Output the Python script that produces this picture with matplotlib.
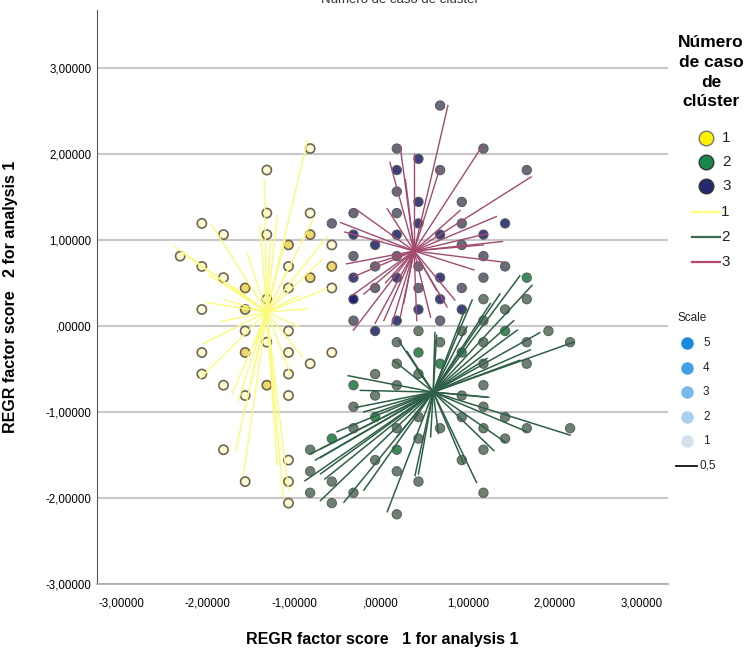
import matplotlib
matplotlib.use("Agg")
import matplotlib.pyplot as plt
from matplotlib.lines import Line2D

plt.rcParams['font.family'] = ['Liberation Sans', 'DejaVu Sans']

# ---------------- data ----------------
# cluster 1 (yellow) binned points; tone 0 = hollow, 1 = filled
c1_x = [-0.82, -0.82, -0.82, -0.82, -0.82,
        -1.32, -1.32, -1.32, -1.32, -1.32, -1.32,
        -2.07, -2.07, -2.07, -2.07, -2.07,
        -1.82, -1.82, -1.82, -1.82,
        -2.32,
        -1.07, -1.07, -1.07, -1.07, -1.07, -1.07, -1.07, -1.07, -1.07, -1.07,
        -1.57, -1.57, -1.57, -1.57, -1.57, -1.57,
        -0.57, -0.57, -0.57, -0.57]
c1_y = [2.06, 1.31, 1.06, 0.56, -0.44,
        1.81, 1.31, 1.06, 0.31, -0.19, -0.69,
        1.19, 0.69, 0.19, -0.31, -0.56,
        1.06, 0.56, -0.69, -1.44,
        0.81,
        0.94, 0.69, 0.44, -0.06, -0.31, -0.56, -0.81, -1.56, -1.81, -2.06,
        0.44, 0.19, -0.06, -0.31, -0.81, -1.81,
        0.94, 0.69, 0.44, -0.31]
c1_tone = [0, 0, 1, 1, 0,
           0, 0, 0, 0, 0, 1,
           0, 0, 0, 0, 0,
           0, 0, 0, 0,
           0,
           1, 0, 0, 0, 0, 0, 0, 0, 0, 0,
           1, 1, 0, 1, 0, 0,
           0, 1, 0, 0]

# cluster 3 (pink lines) binned points; tone 0 = grey, 1 = navy, 2 = bright navy
c3_x = [0.68, 0.68, 0.68, 0.68, 0.68, 0.68,
        0.18, 0.18, 0.18, 0.18, 0.18, 0.18, 0.18, 0.18,
        1.18, 1.18, 1.18, 1.18,
        0.43, 0.43, 0.43, 0.43, 0.43, 0.43,
        1.68,
        0.93, 0.93, 0.93, 0.93, 0.93,
        -0.32, -0.32, -0.32, -0.32, -0.32, -0.32,
        -0.57,
        1.43, 1.43,
        -0.07, -0.07, -0.07, -0.07]
c3_y = [2.56, 1.81, 1.06, 0.56, 0.31, 0.06,
        2.06, 1.81, 1.56, 1.31, 1.06, 0.81, 0.56, 0.06,
        2.06, 1.06, 0.81, 0.56,
        1.94, 1.44, 1.19, 0.69, 0.44, 0.19,
        1.81,
        1.44, 1.19, 0.94, 0.44, 0.19,
        1.31, 1.06, 0.81, 0.56, 0.31, 0.06,
        1.19,
        1.19, 0.69,
        0.94, 0.69, 0.44, -0.06]
c3_tone = [0, 0, 1, 1, 1, 0,
           0, 1, 0, 0, 1, 0, 1, 1,
           0, 1, 0, 0,
           1, 1, 1, 0, 0, 1,
           0,
           0, 0, 0, 0, 1,
           0, 1, 0, 1, 2, 0,
           0,
           1, 0,
           1, 0, 0, 1]

# cluster 2 (green) binned points; tone 0 = grey-green, 1 = green
c2_x = [1.68, 1.68, 1.68, 1.68, 1.68,
        1.43, 1.43, 1.43, 1.43,
        1.18, 1.18, 1.18, 1.18, 1.18, 1.18, 1.18, 1.18, 1.18,
        0.93, 0.93, 0.93, 0.93, 0.93,
        1.93,
        2.18, 2.18,
        0.43, 0.43, 0.43, 0.43, 0.43, 0.43,
        0.68, 0.68, 0.68,
        0.18, 0.18, 0.18, 0.18, 0.18, 0.18, 0.18,
        -0.07, -0.07, -0.07, -0.07,
        -0.32, -0.32, -0.32, -0.32,
        -0.57, -0.57, -0.57,
        -0.82, -0.82, -0.82]
c2_y = [0.56, 0.31, -0.19, -0.44, -1.19,
        0.19, -0.06, -1.06, -1.31,
        0.31, 0.06, -0.19, -0.44, -0.69, -0.94, -1.19, -1.44, -1.94,
        -0.06, -0.31, -0.81, -1.06, -1.56,
        -0.06,
        -0.19, -1.19,
        -0.06, -0.31, -0.56, -1.06, -1.31, -1.81,
        -0.19, -0.44, -1.19,
        -0.19, -0.44, -0.69, -1.19, -1.44, -1.69, -2.19,
        -0.56, -0.81, -1.06, -1.56,
        -0.69, -0.94, -1.19, -1.94,
        -1.31, -1.81, -2.06,
        -1.44, -1.69, -1.94]
c2_tone = [1, 0, 0, 0, 0,
           0, 1, 0, 0,
           0, 0, 0, 0, 0, 0, 0, 0, 0,
           0, 1, 0, 0, 0,
           0,
           0, 0,
           0, 1, 0, 0, 0, 0,
           0, 1, 0,
           0, 0, 0, 0, 1, 0, 0,
           0, 0, 1, 0,
           1, 0, 0, 0,
           1, 0, 0,
           0, 0, 0]

# cluster centroids
cent_x = [-1.32, 0.60, 0.38]
cent_y = [0.16, -0.77, 0.87]

# star line end points (individual cases)
l1_x = [-0.85, -1.35, -1.20, -1.40, -1.96, -2.38, -2.30, -1.99, -2.01, -0.63, -0.67, -0.63,
        -1.11, -1.70, -0.78, -1.55, -1.05, -2.06, -2.09, -1.72, -1.65, -1.68, -1.59, -1.17,
        -1.13, -1.07, -0.91, -0.95, -1.24, -1.51, -1.20, -0.85, -1.45, -1.85, -1.05, -1.28,
        -0.95, -1.80]
l1_y = [2.16, 1.70, 1.28, 1.17, 1.18, 0.92, 0.85, 0.59, 0.27, 1.03, 0.78, 0.43,
        0.99, 0.45, 1.25, 0.85, 0.70, -0.21, -0.61, -0.79, -0.87, -1.45, -1.73, -1.60,
        -1.99, -1.91, -0.36, -0.01, -0.71, -0.67, -1.62, 0.20, -0.20, 0.05, -0.55, 1.00,
        0.35, 0.30]

l3_x = [0.77, 1.16, 1.73, 0.22, 0.10, 0.38, -0.30, -0.47, -0.42, -0.40, -0.32, -0.34,
        -0.32, -0.07, 0.03, 0.12, 0.22, 0.41, 0.57, 0.85, 1.07, 1.41, 1.18, 1.33,
        1.22, 0.91, 0.67, 0.07, -0.09, 0.64, 0.76, -0.20, 0.26, 0.28, 1.40, 0.05]
l3_y = [2.56, 2.08, 1.73, 2.08, 1.90, 2.00, 1.36, 1.20, 1.09, 0.72, 0.57, 0.35,
        -0.05, 0.03, 0.06, 0.01, 0.10, 0.06, 0.10, 0.30, 0.65, 0.74, 0.94, 1.27,
        1.07, 1.34, 1.81, 1.36, 0.72, 0.41, 0.22, 0.37, 0.26, 1.70, 0.98, 0.50]

l2_x = [1.60, 1.74, 1.37, 1.26, 1.53, 1.57, 1.83, 2.22, 1.72, 1.60, 1.22, 0.97,
        0.99, 0.64, 0.41, 0.20, 0.14, -0.38, -0.24, 1.22, 2.18, 1.68, 1.43, 1.30,
        1.10, 0.95, 0.57, 0.43, 0.07, -0.20, -0.70, -0.70, -0.70, -0.70, -0.51, -0.09,
        0.18, -0.82, -0.76, -0.88, -0.65, -0.43, 0.39, -0.20, 0.66, 1.24, 0.62, 1.05,
        0.30, -0.30]
l2_y = [0.58, 0.47, 0.37, 0.26, 0.06, -0.05, -0.08, -0.19, -0.28, -0.40, -0.38, 0.20,
        -0.01, -0.11, -0.50, -0.17, -0.40, -0.58, -0.75, -0.83, -1.27, -1.23, -1.35, -1.45,
        -1.82, -1.60, -1.29, -1.72, -2.16, -1.91, -2.03, -1.72, -1.53, -1.43, -1.23, -1.02,
        -1.29, -1.49, -1.56, -1.80, -1.78, -2.05, -1.74, -1.00, -1.25, -0.83, -0.08, 0.30,
        -0.30, -0.95]

x_ticks = [-3, -2, -1, 0, 1, 2, 3]
y_ticks = [-3, -2, -1, 0, 1, 2, 3]
tick_labels = ['-3,00000', '-2,00000', '-1,00000', ',00000', '1,00000', '2,00000', '3,00000']

legend_pts = ['1', '2', '3']
legend_lines = ['1', '2', '3']
scale_labels = ['5', '4', '3', '2', '1']

# ---------------- figure ----------------
W, H = 747, 657
fig = plt.figure(figsize=(W / 100, H / 100), dpi=100)
ax = fig.add_axes([97 / W, 1 - 584 / H, (668 - 97) / W, (584 - 10) / H])
ax.set_xlim(-3.28, 3.31)
ax.set_ylim(-3.0, 3.67)

for s in ['top', 'right']:
    ax.spines[s].set_visible(False)
ax.spines['left'].set_color('#555555')
ax.spines['bottom'].set_color('#aaaaaa')
ax.spines['bottom'].set_linewidth(1.2)
ax.set_yticks(y_ticks)
ax.set_yticklabels(tick_labels, fontsize=8.3)
ax.set_xticks(x_ticks)
ax.set_xticklabels(tick_labels, fontsize=8.3)
ax.tick_params(length=0, pad=4)
ax.tick_params(axis='x', pad=10)
ax.yaxis.grid(True, color='#c8c8c8', linewidth=1.5)
ax.set_axisbelow(True)

ax.set_xlabel('REGR factor score   1 for analysis 1', fontsize=11.5, fontweight='bold', labelpad=16)
ax.set_ylabel('REGR factor score   2 for analysis 1', fontsize=11.5, fontweight='bold', labelpad=20)

ms = 44
# points
c1_face = ['#fffbd9' if t == 0 else '#f0d86a' for t in c1_tone]
ax.scatter(c1_x, c1_y, s=ms, c=c1_face, edgecolors='#6f6650', linewidths=1.2, zorder=3)
c3_face = [['#686b78', '#3d417b', '#1f2370'][t] for t in c3_tone]
ax.scatter(c3_x, c3_y, s=ms, c=c3_face, edgecolors='#5a5c66', linewidths=0.8, zorder=3)
c2_face = ['#6f7f74' if t == 0 else '#3c8a5a' for t in c2_tone]
ax.scatter(c2_x, c2_y, s=ms, c=c2_face, edgecolors='#58655b', linewidths=0.8, zorder=3)

# star lines
for ex, ey in zip(l1_x, l1_y):
    ax.plot([cent_x[0], ex], [cent_y[0], ey], color='#fbfb7c', lw=1.0, zorder=4)
for ex, ey in zip(l3_x, l3_y):
    ax.plot([cent_x[2], ex], [cent_y[2], ey], color='#a24b6e', lw=1.0, zorder=4)
for ex, ey in zip(l2_x, l2_y):
    ax.plot([cent_x[1], ex], [cent_y[1], ey], color='#2f5f47', lw=1.1, zorder=4)

# cut-off title at top (as in the reference)
fig.text(400 / W, 1 - 0 / H, 'Número de caso de clúster', fontsize=9.5, ha='center', va='center', color='#333333')

# ---------------- legend (manual) ----------------
def fx(px):
    return px / W

def fy(py):
    return 1 - py / H

fig.text(fx(711), fy(35), 'Número\nde caso\nde\nclúster', fontsize=12.5, fontweight='bold',
         ha='center', va='top', linespacing=1.4)

pt_colors = ['#fff200', '#17884b', '#252a70']
pt_edges = ['#777777', '#333333', '#333333']
for k, lab in enumerate(legend_pts):
    yy = 138 + k * 24
    fig.add_artist(Line2D([fx(706)], [fy(yy)], marker='o', markersize=10.5, markerfacecolor=pt_colors[k],
                          markeredgecolor=pt_edges[k], markeredgewidth=1, linestyle='none'))
    fig.text(fx(722), fy(yy), lab, fontsize=11, va='center', ha='left', color='#222222')

ln_colors = ['#ffff80', '#3a6a50', '#b04870']
for k, lab in enumerate(legend_lines):
    yy = 212 + k * 25
    fig.add_artist(Line2D([fx(692), fx(720)], [fy(yy), fy(yy)], color=ln_colors[k], lw=1.6))
    fig.text(fx(721), fy(yy), lab, fontsize=11, va='center', ha='left', color='#222222')

fig.text(fx(677), fy(318), 'Scale', fontsize=8.5, va='center', ha='left', color='#222222')
sc_colors = ['#1a8ce0', '#44a1e6', '#79b9ea', '#a8cfee', '#d2e1ec']
for k, lab in enumerate(scale_labels):
    yy = 343 + k * 24.5
    fig.add_artist(Line2D([fx(687)], [fy(yy)], marker='o', markersize=9, markerfacecolor=sc_colors[k],
                          markeredgecolor='none', linestyle='none'))
    fig.text(fx(703), fy(yy), lab, fontsize=8.5, va='center', ha='left', color='#222222')
fig.add_artist(Line2D([fx(676), fx(697)], [fy(466), fy(466)], color='#111111', lw=1.3))
fig.text(fx(699), fy(466), '0,5', fontsize=8.5, va='center', ha='left', color='#222222')

fig.savefig('out.png', dpi=100)
